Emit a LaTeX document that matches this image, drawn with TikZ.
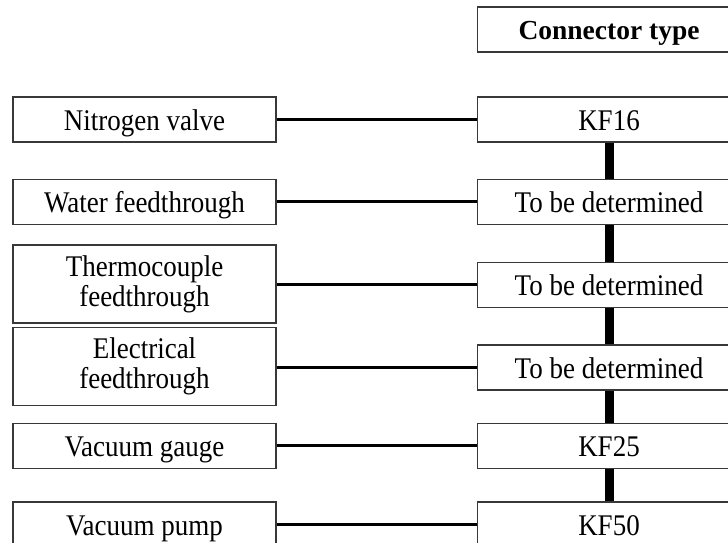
\documentclass[tikz,border=0pt]{standalone}
\usepackage{fontspec}
\setmainfont{Liberation Serif}[FakeStretch=0.9]
\newfontfamily\headfont{Liberation Serif}
\begin{document}
\begin{tikzpicture}[x=1pt,y=-1pt,
  box/.style={draw=black!78, line width=1.3pt, fill=white, inner sep=0pt,
    minimum width=263pt, minimum height=45pt, align=center,
    text height=21pt, text depth=0pt,
    font=\fontsize{30}{30}\selectfont},
  tallbox/.style={box, minimum height=78pt, text height={}, text depth={}},
  hlink/.style={line width=3pt, black},
  vlink/.style={line width=9pt, black}]
  \useasboundingbox (0,0) rectangle (728,542);
  \clip (0,0) rectangle (728,542);

  % column heading
  \node[box, text height=20pt, font=\headfont\bfseries\fontsize{27.5}{30}\selectfont] (head) at (609,29.5) {Connector type};

  % components on the left
  \node[box] (nv) at (144.5,119.5) {Nitrogen valve};
  \node[box] (wf) at (144.5,201.7) {Water feedthrough};
  \node[tallbox] (tc) at (144.5,284) {Thermocouple\\feedthrough};
  \node[tallbox] (el) at (144.5,366.5) {Electrical\\feedthrough};
  \node[box] (vg) at (144.5,445.7) {Vacuum gauge};
  \node[box] (vp) at (144.5,524.5) {Vacuum pump};

  % connector types on the right
  \node[box] (kf16) at (609,119.5) {KF16};
  \node[box] (tbd1) at (609,201.7) {To be determined};
  \node[box] (tbd2) at (609,284.7) {To be determined};
  \node[box] (tbd3) at (609,367.5) {To be determined};
  \node[box] (kf25) at (609,445.7) {KF25};
  \node[box] (kf50) at (609,524.5) {KF50};

  % component to connector links
  \draw[hlink] (nv.east) -- (kf16.west);
  \draw[hlink] (wf.east) -- (tbd1.west);
  \draw[hlink] (tc.east |- tbd2.west) -- (tbd2.west);
  \draw[hlink] (el.east |- tbd3.west) -- (tbd3.west);
  \draw[hlink] (vg.east) -- (kf25.west);
  \draw[hlink] (vp.east) -- (kf50.west);

  % trunk joining the connectors
  \draw[vlink] (kf16.south) -- (tbd1.north);
  \draw[vlink] (tbd1.south) -- (tbd2.north);
  \draw[vlink] (tbd2.south) -- (tbd3.north);
  \draw[vlink] (tbd3.south) -- (kf25.north);
  \draw[vlink] (kf25.south) -- (kf50.north);
\end{tikzpicture}
\end{document}
